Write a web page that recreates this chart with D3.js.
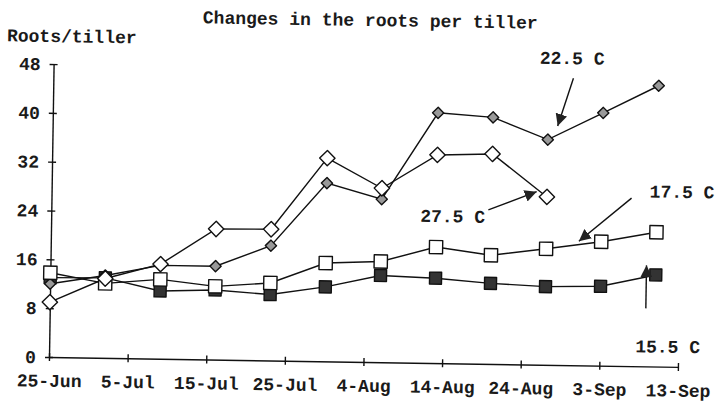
<!DOCTYPE html>
<html>
<head>
<style>
body { margin: 0; background: #fff; }
svg text { font-family: "Liberation Mono", "DejaVu Sans Mono", monospace; font-size: 18px; font-weight: bold; fill: #1a1a1a; }
.axis path, .axis line { stroke: #111; stroke-width: 1.4; }
.series path { fill: none; stroke: #111; stroke-width: 1.4; }
</style>
<script src="https://cdn.jsdelivr.net/npm/d3@7"></script>
</head>
<body>
<svg width="718" height="402"></svg>
<script>
// sampling dates (weekly) and axis ticks
var sampleDates = ["1991-06-25", "1991-07-02", "1991-07-09", "1991-07-16", "1991-07-23", "1991-07-30",
                   "1991-08-06", "1991-08-13", "1991-08-20", "1991-08-27", "1991-09-03", "1991-09-10"];
var tickDates = ["1991-06-25", "1991-07-05", "1991-07-15", "1991-07-25", "1991-08-04",
                 "1991-08-14", "1991-08-24", "1991-09-03", "1991-09-13"];
var tickLabels = ["25-Jun", "5-Jul", "15-Jul", "25-Jul", "4-Aug", "14-Aug", "24-Aug", "3-Sep", "13-Sep"];
var yTicks = [0, 8, 16, 24, 32, 40, 48];

// roots per tiller for each temperature
var roots155 = [13.0, 13.1, 11.1, 11.4, 10.8, 12.2, 14.2, 13.9, 13.2, 12.8, 13.0, 15.0];
var roots175 = [13.8, 12.2, 13.0, 12.0, 12.7, 16.1, 16.5, 19.0, 17.8, 19.0, 20.3, 22.0];
var roots225 = [12.0, 13.5, 15.3, 15.3, 18.8, 29.2, 26.7, 41.0, 40.4, 36.9, 41.4, 46.0];
var roots275 = [9.0, 13.0, 15.5, 21.4, 21.5, 33.3, 28.5, 34.1, 34.4, 27.5];

var parse = d3.utcParse("%Y-%m-%d");
var svg = d3.select("svg");

var x = d3.scaleUtc()
  .domain([parse(tickDates[0]), parse(tickDates[tickDates.length - 1])])
  .range([49, 678]);
var y = d3.scaleLinear().domain([0, 48]).range([357, 64]);

// the scan is slightly tilted
var g = svg.append("g").attr("transform", "rotate(0.9, 49, 357)");

g.append("text").attr("x", 365).attr("y", 21).attr("text-anchor", "middle")
  .text("Changes in the roots per tiller");
g.append("text").attr("x", 2).attr("y", 42).text("Roots/tiller");

var yAxis = g.append("g").attr("class", "axis")
  .attr("transform", "translate(49,0)")
  .call(d3.axisLeft(y).tickValues(yTicks).tickSize(4).tickSizeOuter(0).tickPadding(9));
yAxis.selectAll(".tick line").attr("x1", 4);

var xAxis = g.append("g").attr("class", "axis")
  .attr("transform", "translate(0,357)")
  .call(d3.axisBottom(x).tickValues(tickDates.map(parse)).tickSize(4).tickSizeOuter(0).tickPadding(13)
    .tickFormat(function(d, i) { return tickLabels[i]; }));
xAxis.selectAll(".tick line").attr("y1", -4);
g.selectAll(".axis text").attr("font-family", null).attr("font-size", null).attr("fill", "#1a1a1a");

var series = [
  {name: "15.5", values: roots155, shape: d3.symbolSquare, size: 144, fill: "#333"},
  {name: "22.5", values: roots225, shape: d3.symbolDiamond2, size: 80, fill: "#999"},
  {name: "17.5", values: roots175, shape: d3.symbolSquare, size: 175, fill: "#fff"},
  {name: "27.5", values: roots275, shape: d3.symbolDiamond2, size: 150, fill: "#fff"}
];
series.forEach(function(s) {
  s.points = s.values.map(function(v, i) { return {date: parse(sampleDates[i]), value: v}; });
});

var line = d3.line().x(function(d) { return x(d.date); }).y(function(d) { return y(d.value); });

g.append("g").attr("class", "series")
  .selectAll("path").data(series).enter().append("path")
  .attr("d", function(s) { return line(s.points); });

series.forEach(function(s) {
  g.append("g").selectAll("path").data(s.points).enter().append("path")
    .attr("d", d3.symbol().type(s.shape).size(s.size))
    .attr("transform", function(d) { return "translate(" + x(d.date) + "," + y(d.value) + ")"; })
    .attr("fill", s.fill).attr("stroke", "#111").attr("stroke-width", 1.4)
    .attr("stroke-linejoin", "round");
});

// annotations
svg.append("defs").append("marker")
  .attr("id", "head").attr("viewBox", "0 0 10 10").attr("refX", 10).attr("refY", 5)
  .attr("markerWidth", 12).attr("markerHeight", 12).attr("markerUnits", "userSpaceOnUse")
  .attr("orient", "auto")
  .append("path").attr("d", "M0,0L10,5L0,10z").attr("fill", "#222");

var notes = [
  {label: "22.5 C", tx: 535, ty: 56, x1: 569, y1: 70, x2: 554, y2: 118},
  {label: "27.5 C", tx: 418, ty: 216, x1: 486, y1: 203, x2: 534, y2: 184},
  {label: "17.5 C", tx: 647, ty: 188, x1: 629, y1: 189, x2: 577, y2: 233},
  {label: "15.5 C", tx: 635, ty: 343, x1: 645, y1: 299, x2: 645, y2: 256}
];
notes.forEach(function(n) {
  g.append("text").attr("x", n.tx).attr("y", n.ty).text(n.label);
  g.append("line").attr("x1", n.x1).attr("y1", n.y1).attr("x2", n.x2).attr("y2", n.y2)
    .attr("stroke", "#111").attr("stroke-width", 1.4).attr("marker-end", "url(#head)");
});
</script>
</body>
</html>
